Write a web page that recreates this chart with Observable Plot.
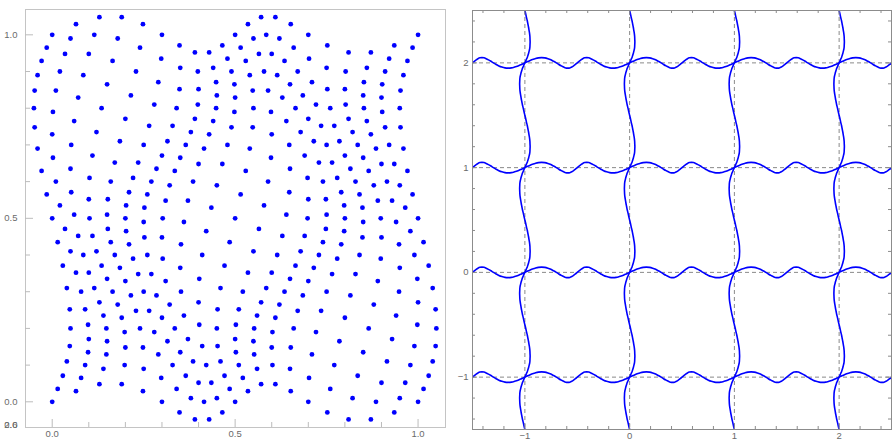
<!DOCTYPE html>
<html>
<head>
<meta charset="utf-8">
<script src="https://cdn.jsdelivr.net/npm/d3@7"></script>
<script src="https://cdn.jsdelivr.net/npm/@observablehq/plot@0.6"></script>
<style>
  html, body { margin: 0; padding: 0; background: #fff; }
  #wrap { position: relative; width: 892px; height: 441px; overflow: hidden; }
  #left, #right { position: absolute; top: 0; }
  #left { left: 0; }
  #right { left: 446px; }
</style>
</head>
<body>
<div id="wrap"><div id="left"></div><div id="right"></div></div>
<script>
// ---------- Left panel: distorted 21x21 grid of points (rows j, columns i) ----------
const leftX = [
  [0, .065, .129, .190, .248, .300, .348, .390, .429, .465, .500, .535, .571, .610, .652, .700, .752, .810, .871, .935, 1.000],
  [.015, .079, .140, .198, .250, .298, .340, .379, .415, .450, .485, .521, .560, .602, .650, .702, .760, .821, .885, .950, 1.015],
  [.029, .090, .148, .200, .248, .290, .329, .365, .400, .435, .471, .510, .552, .600, .652, .710, .771, .835, .900, .965, 1.029],
  [.040, .098, .150, .198, .240, .279, .315, .350, .385, .421, .460, .502, .550, .602, .660, .721, .785, .850, .915, .979, 1.040],
  [.048, .100, .148, .190, .229, .265, .300, .335, .371, .410, .452, .500, .552, .610, .671, .735, .800, .865, .929, .990, 1.048],
  [.050, .098, .140, .179, .215, .250, .285, .321, .360, .402, .450, .502, .560, .621, .685, .750, .815, .879, .940, .998, 1.050],
  [.048, .090, .129, .165, .200, .235, .271, .310, .352, .400, .452, .510, .571, .635, .700, .765, .829, .890, .948, 1.000, 1.048],
  [.040, .079, .115, .150, .185, .221, .260, .302, .350, .402, .460, .521, .585, .650, .715, .779, .840, .898, .950, .998, 1.040],
  [.029, .065, .100, .135, .171, .210, .252, .300, .352, .410, .471, .535, .600, .665, .729, .790, .848, .900, .948, .990, 1.029],
  [.015, .050, .085, .121, .160, .202, .250, .302, .360, .421, .485, .550, .615, .679, .740, .798, .850, .898, .940, .979, 1.015],
  [0, .035, .071, .110, .152, .200, .252, .310, .371, .435, .500, .565, .629, .690, .748, .800, .848, .890, .929, .965, 1.000],
  [-.015, .021, .060, .102, .150, .202, .260, .321, .385, .450, .515, .579, .640, .698, .750, .798, .840, .879, .915, .950, .985],
  [-.029, .010, .052, .100, .152, .210, .271, .335, .400, .465, .529, .590, .648, .700, .748, .790, .829, .865, .900, .935, .971],
  [-.040, .002, .050, .102, .160, .221, .285, .350, .415, .479, .540, .598, .650, .698, .740, .779, .815, .850, .885, .921, .960],
  [-.048, .000, .052, .110, .171, .235, .300, .365, .429, .490, .548, .600, .648, .690, .729, .765, .800, .835, .871, .910, .952],
  [-.050, .002, .060, .121, .185, .250, .315, .379, .440, .498, .550, .598, .640, .679, .715, .750, .785, .821, .860, .902, .950],
  [-.048, .010, .071, .135, .200, .265, .329, .390, .448, .500, .548, .590, .629, .665, .700, .735, .771, .810, .852, .900, .952],
  [-.040, .021, .085, .150, .215, .279, .340, .398, .450, .498, .540, .579, .615, .650, .685, .721, .760, .802, .850, .902, .960],
  [-.029, .035, .100, .165, .229, .290, .348, .400, .448, .490, .529, .565, .600, .635, .671, .710, .752, .800, .852, .910, .971],
  [-.015, .050, .115, .179, .240, .298, .350, .398, .440, .479, .515, .550, .585, .621, .660, .702, .750, .802, .860, .921, .985],
  [0, .065, .129, .190, .248, .300, .348, .390, .429, .465, .500, .535, .571, .610, .652, .700, .752, .810, .871, .935, 1.000]
];
const leftY = [
  [0, .029, .048, .048, .029, 0, -.029, -.048, -.048, -.029, 0, .029, .048, .048, .029, 0, -.029, -.048, -.048, -.029, 0],
  [.035, .065, .090, .100, .090, .065, .035, .010, .000, .010, .035, .065, .090, .100, .090, .065, .035, .010, .000, .010, .035],
  [.071, .100, .129, .148, .148, .129, .100, .071, .052, .052, .071, .100, .129, .148, .148, .129, .100, .071, .052, .052, .071],
  [.110, .135, .165, .190, .200, .190, .165, .135, .110, .100, .110, .135, .165, .190, .200, .190, .165, .135, .110, .100, .110],
  [.152, .171, .200, .229, .248, .248, .229, .200, .171, .152, .152, .171, .200, .229, .248, .248, .229, .200, .171, .152, .152],
  [.200, .210, .235, .265, .290, .300, .290, .265, .235, .210, .200, .210, .235, .265, .290, .300, .290, .265, .235, .210, .200],
  [.252, .252, .271, .300, .329, .348, .348, .329, .300, .271, .252, .252, .271, .300, .329, .348, .348, .329, .300, .271, .252],
  [.310, .300, .310, .335, .365, .390, .400, .390, .365, .335, .310, .300, .310, .335, .365, .390, .400, .390, .365, .335, .310],
  [.371, .352, .352, .371, .400, .429, .448, .448, .429, .400, .371, .352, .352, .371, .400, .429, .448, .448, .429, .400, .371],
  [.435, .410, .400, .410, .435, .465, .490, .500, .490, .465, .435, .410, .400, .410, .435, .465, .490, .500, .490, .465, .435],
  [.500, .471, .452, .452, .471, .500, .529, .548, .548, .529, .500, .471, .452, .452, .471, .500, .529, .548, .548, .529, .500],
  [.565, .535, .510, .500, .510, .535, .565, .590, .600, .590, .565, .535, .510, .500, .510, .535, .565, .590, .600, .590, .565],
  [.629, .600, .571, .552, .552, .571, .600, .629, .648, .648, .629, .600, .571, .552, .552, .571, .600, .629, .648, .648, .629],
  [.690, .665, .635, .610, .600, .610, .635, .665, .690, .700, .690, .665, .635, .610, .600, .610, .635, .665, .690, .700, .690],
  [.748, .729, .700, .671, .652, .652, .671, .700, .729, .748, .748, .729, .700, .671, .652, .652, .671, .700, .729, .748, .748],
  [.800, .790, .765, .735, .710, .700, .710, .735, .765, .790, .800, .790, .765, .735, .710, .700, .710, .735, .765, .790, .800],
  [.848, .848, .829, .800, .771, .752, .752, .771, .800, .829, .848, .848, .829, .800, .771, .752, .752, .771, .800, .829, .848],
  [.890, .900, .890, .865, .835, .810, .800, .810, .835, .865, .890, .900, .890, .865, .835, .810, .800, .810, .835, .865, .890],
  [.929, .948, .948, .929, .900, .871, .852, .852, .871, .900, .929, .948, .948, .929, .900, .871, .852, .852, .871, .900, .929],
  [.965, .990, 1.000, .990, .965, .935, .910, .900, .910, .935, .965, .990, 1.000, .990, .965, .935, .910, .900, .910, .935, .965],
  [1, 1.029, 1.048, 1.048, 1.029, 1, .971, .952, .952, .971, 1, 1.029, 1.048, 1.048, 1.029, 1, .971, .952, .952, .971, 1]
];
const leftMajorTicks = [0, 0.5, 1];
const leftMinorTicks = [0.1, 0.2, 0.3, 0.4, 0.6, 0.7, 0.8, 0.9];
const leftCornerLabels = ["0.0", "2.6"];

// ---------- Right panel: one period of the wave profile (sampled every 1/40) ----------
const waveT = [0, .025, .05, .075, .1, .125, .15, .175, .2, .225, .25, .275, .3, .325, .35, .375, .4, .425, .45, .475,
               .5, .525, .55, .575, .6, .625, .65, .675, .7, .725, .75, .775, .8, .825, .85, .875, .9, .925, .95, .975];
const waveShift = [0, .008, .015, .023, .029, .035, .040, .045, .048, .049, .050, .049, .048, .045, .040, .035, .029, .023, .015, .008,
                   0, -.008, -.015, -.023, -.029, -.035, -.040, -.045, -.048, -.049, -.050, -.049, -.048, -.045, -.040, -.035, -.029, -.023, -.015, -.008];
const waveRipple = [0, .015, .029, .040, .048, .050, .048, .040, .029, .015, 0, -.015, -.029, -.040, -.048, -.050, -.048, -.040, -.029, -.015,
                    0, .015, .029, .040, .048, .050, .048, .040, .029, .015, 0, -.015, -.029, -.040, -.048, -.050, -.048, -.040, -.029, -.015];
const gridLines = [-1, 0, 1, 2];
const periods = [-2, -1, 0, 1, 2, 3];
const rightMajorTicks = [-1, 0, 1, 2];
const rightMinorTicks = [-1.4, -1.2, -0.8, -0.6, -0.4, -0.2, 0.2, 0.4, 0.6, 0.8, 1.2, 1.4, 1.6, 1.8, 2.2, 2.4];

// ---------- build tables ----------
const points = leftX.flatMap((row, j) => row.map((x, i) => ({x, y: leftY[j][i]})));

const hCurves = [], vCurves = [];
for (const k of gridLines) {
  for (const p of periods) {
    waveT.forEach((t, s) => {
      hCurves.push({line: k, x: p + t + waveShift[s], y: k + waveRipple[s]});
      vCurves.push({line: k, x: k + waveShift[s], y: p + t - waveShift[s]});
    });
  }
}

const font = "'Liberation Sans', Arial, sans-serif";

// ---------- left plot ----------
const LW = 446, LH = 441, LML = 25, LMR = 1, LMT = 9, LMB = 14;
const lIW = LW - LML - LMR, lIH = LH - LMT - LMB;
const leftPlot = Plot.plot({
  width: LW, height: LH,
  marginLeft: LML, marginRight: LMR, marginTop: LMT, marginBottom: LMB,
  style: {fontFamily: font, fontSize: "9.5px", color: "#6a6a6a", background: "white", overflow: "visible"},
  x: {domain: [-0.073, 1.075]},
  y: {domain: [-0.070, 1.069]},
  marks: [
    Plot.frame({stroke: "#c4c4c4"}),
    Plot.ruleX(leftMajorTicks, {x: d => d, insetTop: lIH - 8, stroke: "#bcbcbc"}),
    Plot.ruleX(leftMinorTicks, {x: d => d, insetTop: lIH - 5, stroke: "#bcbcbc"}),
    Plot.ruleY(leftMajorTicks, {y: d => d, insetRight: lIW - 8, stroke: "#bcbcbc"}),
    Plot.ruleY(leftMinorTicks, {y: d => d, insetRight: lIW - 5, stroke: "#bcbcbc"}),
    Plot.axisX({ticks: leftMajorTicks, tickFormat: d3.format(".1f"), tickSize: 0, tickPadding: 3, label: null}),
    Plot.axisY({ticks: leftMajorTicks, tickFormat: d3.format(".1f"), tickSize: 0, tickPadding: 8, label: null}),
    Plot.text(leftCornerLabels, {text: d => d, frameAnchor: "bottom-left", dx: -8, textAnchor: "end", fill: "#6a6a6a"}),
    Plot.dot(points, {x: "x", y: "y", r: 2.4, fill: "#0000ff", stroke: null})
  ]
});
document.getElementById("left").appendChild(leftPlot);

// ---------- right plot ----------
const RW = 446, RH = 441, RML = 26, RMR = 1, RMT = 10, RMB = 12;
const rIW = RW - RML - RMR, rIH = RH - RMT - RMB;
const tickCol = "#8c8c8c";
const rightPlot = Plot.plot({
  width: RW, height: RH,
  marginLeft: RML, marginRight: RMR, marginTop: RMT, marginBottom: RMB,
  style: {fontFamily: font, fontSize: "9.5px", color: "#6a6a6a", background: "white", overflow: "visible"},
  x: {domain: [-1.5, 2.5]},
  y: {domain: [-1.5, 2.5]},
  marks: [
    Plot.ruleX(gridLines, {x: d => d, stroke: "#8a8a8a", strokeWidth: 1, strokeDasharray: "4,3"}),
    Plot.ruleY(gridLines, {y: d => d, stroke: "#8a8a8a", strokeWidth: 1, strokeDasharray: "4,3"}),
    Plot.line(hCurves, {x: "x", y: "y", z: "line", curve: "catmull-rom", stroke: "#0000ff", strokeWidth: 1.6, clip: true}),
    Plot.line(vCurves, {x: "x", y: "y", z: "line", curve: "catmull-rom", stroke: "#0000ff", strokeWidth: 1.6, clip: true}),
    Plot.frame({stroke: "#8c8c8c"}),
    Plot.ruleX(rightMajorTicks, {x: d => d, insetTop: rIH - 5, stroke: tickCol}),
    Plot.ruleX(rightMinorTicks, {x: d => d, insetTop: rIH - 3, stroke: tickCol}),
    Plot.ruleX(rightMajorTicks, {x: d => d, insetBottom: rIH - 5, stroke: tickCol}),
    Plot.ruleX(rightMinorTicks, {x: d => d, insetBottom: rIH - 3, stroke: tickCol}),
    Plot.ruleY(rightMajorTicks, {y: d => d, insetRight: rIW - 5, stroke: tickCol}),
    Plot.ruleY(rightMinorTicks, {y: d => d, insetRight: rIW - 3, stroke: tickCol}),
    Plot.ruleY(rightMajorTicks, {y: d => d, insetLeft: rIW - 5, stroke: tickCol}),
    Plot.ruleY(rightMinorTicks, {y: d => d, insetLeft: rIW - 3, stroke: tickCol}),
    Plot.axisX({ticks: rightMajorTicks, tickFormat: d3.format("d"), tickSize: 0, tickPadding: 3, label: null}),
    Plot.axisY({ticks: rightMajorTicks, tickFormat: d3.format("d"), tickSize: 0, tickPadding: 4, label: null})
  ]
});
document.getElementById("right").appendChild(rightPlot);
</script>
</body>
</html>
